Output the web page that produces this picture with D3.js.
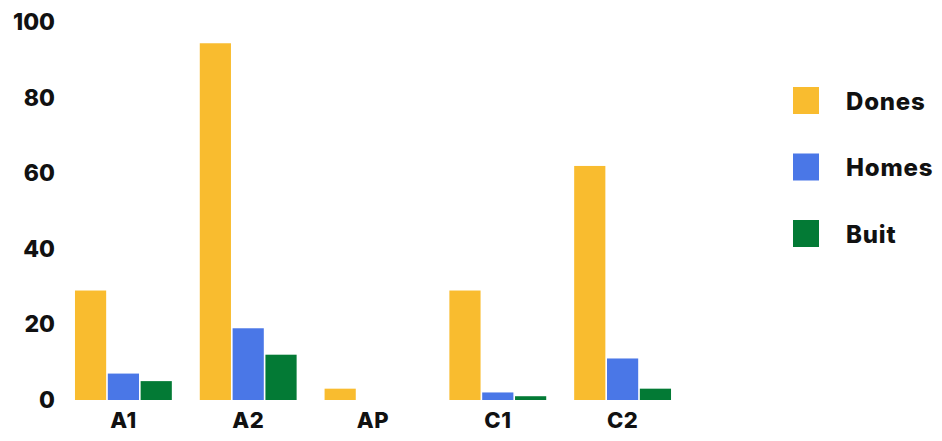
<!DOCTYPE html>
<html>
<head>
<meta charset="utf-8">
<script src="https://cdn.jsdelivr.net/npm/d3@7"></script>
<style>
  body { margin: 0; background: #fff; }
  text { font-family: Inter, "Open Sans", sans-serif; font-weight: 800; fill: #111; }
</style>
</head>
<body>
<svg width="942" height="441"></svg>
<script>
const categories = ['A1', 'A2', 'AP', 'C1', 'C2'];
const seriesNames = ['Dones', 'Homes', 'Buit'];
const dones = [29, 94.5, 3, 29, 62];
const homes = [7, 19, 0, 2, 11];
const buit = [5, 12, 0, 1, 3];
const yTicks = [0, 20, 40, 60, 80, 100];
const colors = ['#F9BC2F', '#4A77E7', '#037A35'];

const svg = d3.select('svg');

const data = categories.map((c, i) => ({
  cat: c,
  values: [dones[i], homes[i], buit[i]]
}));

const yScale = d3.scaleLinear()
  .domain([0, 100])
  .range([400, 22.5]);

const xScale = d3.scaleBand()
  .domain(categories)
  .range([61, 685])
  .paddingInner(0.224)
  .paddingOuter(0.112);

const x1 = d3.scaleBand()
  .domain(seriesNames)
  .range([0, xScale.bandwidth()])
  .paddingInner(0.05);

const color = d3.scaleOrdinal().domain(seriesNames).range(colors);

// y axis, labels only
const yAxisG = svg.append('g')
  .attr('transform', 'translate(55,0)')
  .call(d3.axisLeft(yScale).tickValues(yTicks).tickSize(0).tickPadding(0));
yAxisG.select('.domain').remove();
yAxisG.selectAll('text')
  .attr('font-size', 23)
  .attr('fill', '#111')
  .style('font-family', null);

// x axis
const xAxisG = svg.append('g')
  .attr('transform', 'translate(0,416)')
  .call(d3.axisBottom(xScale).tickSize(0).tickPadding(0));
xAxisG.select('.domain').remove();
xAxisG.selectAll('text')
  .attr('font-size', 22)
  .attr('dy', '0.55em')
  .attr('letter-spacing', 0.5)
  .attr('fill', '#111')
  .style('font-family', null);

// bars
const groups = svg.append('g').selectAll('g').data(data)
  .enter().append('g')
    .attr('transform', d => `translate(${xScale(d.cat)},0)`);

groups.selectAll('rect')
  .data(d => d.values.map((v, j) => ({ key: seriesNames[j], value: v })))
  .enter().append('rect')
    .attr('x', d => x1(d.key))
    .attr('y', d => yScale(d.value))
    .attr('width', x1.bandwidth())
    .attr('height', d => yScale(0) - yScale(d.value))
    .attr('fill', d => color(d.key));

// legend
const legend = svg.append('g')
  .attr('transform', 'translate(793,87)')
  .selectAll('g').data(seriesNames)
  .enter().append('g')
    .attr('transform', (d, i) => `translate(0,${i * 66.5})`);

legend.append('rect')
  .attr('width', 26)
  .attr('height', 27)
  .attr('fill', d => color(d));

legend.append('text')
  .attr('x', 53)
  .attr('y', 14)
  .attr('dy', '0.36em')
  .attr('font-size', 24)
  .attr('letter-spacing', 0.8)
  .text(d => d);
</script>
</body>
</html>
